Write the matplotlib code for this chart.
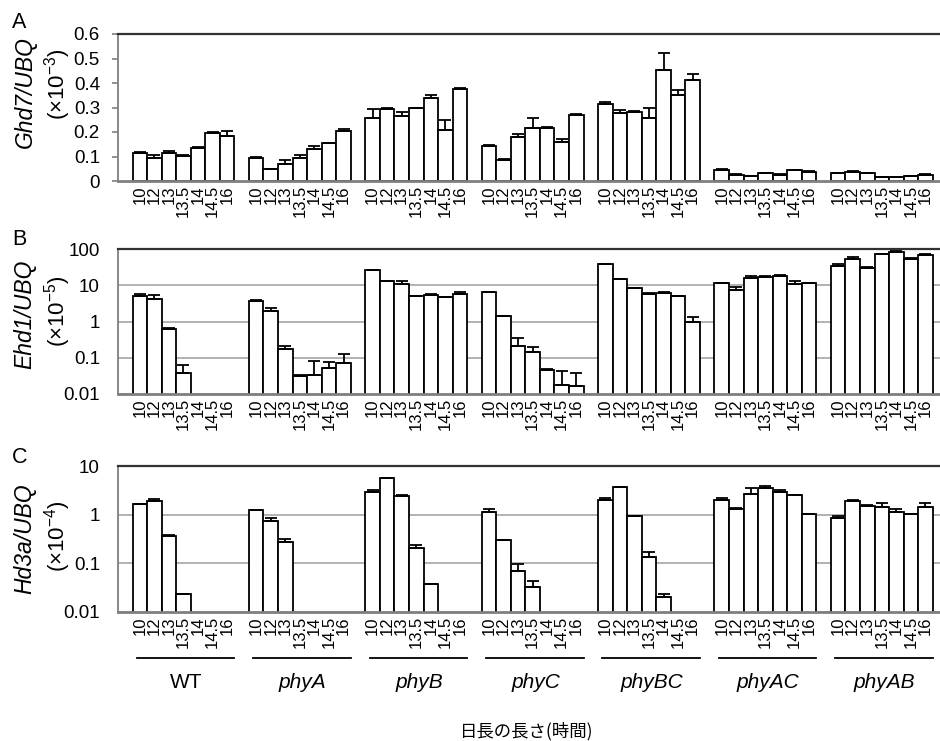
import numpy as np
import matplotlib
matplotlib.use("Agg")
from matplotlib import pyplot as plt
from matplotlib import transforms
from matplotlib.ticker import FixedLocator, NullLocator

plt.rcParams['font.family'] = ['Liberation Sans', 'Noto Sans CJK JP', 'DejaVu Sans']
plt.rcParams['mathtext.fontset'] = 'custom'
plt.rcParams['mathtext.rm'] = 'Liberation Sans'
plt.rcParams['mathtext.it'] = 'Liberation Sans:italic'

nan = np.nan

genotypes = ['WT', 'phyA', 'phyB', 'phyC', 'phyBC', 'phyAC', 'phyAB']
daylengths = ['10', '12', '13', '13.5', '14', '14.5', '16']

# A: Ghd7/UBQ (x10^-3), rows = genotypes, cols = daylengths
ghd7 = [[0.116, 0.094, 0.116, 0.104, 0.136, 0.196, 0.185],
        [0.093, 0.048, 0.070, 0.093, 0.131, 0.154, 0.206],
        [0.259, 0.292, 0.267, 0.296, 0.340, 0.210, 0.376],
        [0.143, 0.087, 0.180, 0.217, 0.217, 0.161, 0.271],
        [0.314, 0.277, 0.282, 0.259, 0.455, 0.352, 0.413],
        [0.044, 0.026, 0.019, 0.031, 0.026, 0.044, 0.038],
        [0.031, 0.037, 0.033, 0.015, 0.016, 0.019, 0.025]]
ghd7_err = [[0.003, 0.011, 0.008, 0.003, 0.003, 0.003, 0.020],
            [0.003, 0.003, 0.017, 0.012, 0.012, 0.003, 0.005],
            [0.034, 0.005, 0.014, 0.003, 0.012, 0.037, 0.005],
            [0.002, 0.002, 0.012, 0.042, 0.002, 0.012, 0.003],
            [0.007, 0.012, 0.002, 0.037, 0.068, 0.018, 0.025],
            [0.007, 0.001, 0.001, 0.003, 0.001, 0.002, 0.003],
            [0.001, 0.002, 0.001, 0.003, 0.001, 0.003, 0.002]]

# B: Ehd1/UBQ (x10^-5)
ehd1 = [[4.91, 4.15, 0.614, 0.039, nan, nan, nan],
        [3.73, 1.93, 0.179, 0.0315, 0.0343, 0.0513, 0.0735],
        [25.7, 13.0, 10.8, 4.91, 5.46, 4.61, 5.58],
        [6.61, 1.43, 0.217, 0.148, 0.047, 0.0177, 0.0163],
        [37.7, 14.5, 8.17, 5.82, 6.2, 4.91, 1.0],
        [11.7, 7.35, 15.8, 17.2, 17.5, 10.8, 11.7],
        [34.6, 54.0, 30.5, 72.8, 80.9, 54.0, 66.8]]
ehd1_err = [[0.7, 1.4, 0.06, 0.023, 0, 0, 0],
            [0.1, 0.4, 0.03, 0.001, 0.047, 0.024, 0.057],
            [0.3, 0.2, 2.2, 0.2, 0.2, 0.1, 1.1],
            [0.1, 0.02, 0.13, 0.047, 0.001, 0.025, 0.022],
            [0.5, 0.3, 0.3, 0.3, 0.4, 0.1, 0.3],
            [0.2, 1.7, 1.8, 0.3, 1.5, 2.2, 0.2],
            [3.8, 6.0, 0.5, 1.0, 7.0, 1.0, 6.0]]

# C: Hd3a/UBQ (x10^-4)
hd3a = [[1.63, 1.9, 0.366, 0.023, nan, nan, nan],
        [1.23, 0.754, 0.28, nan, nan, nan, nan],
        [2.9, 5.55, 2.37, 0.208, 0.038, nan, nan],
        [1.15, 0.298, 0.068, 0.033, nan, nan, nan],
        [2.03, 3.63, 0.925, 0.136, 0.0203, nan, nan],
        [2.03, 1.33, 2.69, 3.52, 2.96, 2.49, 1.02],
        [0.868, 1.87, 1.53, 1.41, 1.13, 1.02, 1.41]]
hd3a_err = [[0.03, 0.15, 0.01, 0.0005, 0, 0, 0],
            [0.02, 0.11, 0.04, 0, 0, 0, 0],
            [0.3, 0.25, 0.13, 0.035, 0.0005, 0, 0],
            [0.18, 0.003, 0.028, 0.011, 0, 0, 0],
            [0.13, 0.05, 0.02, 0.033, 0.003, 0, 0],
            [0.13, 0.05, 0.9, 0.3, 0.2, 0.05, 0.03],
            [0.07, 0.1, 0.03, 0.35, 0.2, 0.03, 0.35]]

W, H = 940, 741
fig = plt.figure(figsize=(W / 100, H / 100), dpi=100)

def px_axes(top, bottom, left=118, right=940):
    return fig.add_axes([left / W, 1 - bottom / H, (right - left) / W, (bottom - top) / H])

ax_a = px_axes(34, 181)
ax_b = px_axes(249, 394)
ax_c = px_axes(466, 612)

ngen = len(genotypes)
nday = len(daylengths)
# one empty slot in front of each genotype, bars touching
xpos = np.array([[8 * g + 1 + i + 0.5 for i in range(nday)] for g in range(ngen)])

def draw_panel(ax, vals, errs, log):
    vals = np.array(vals, dtype=float).ravel()
    errs = np.array(errs, dtype=float).ravel()
    x = xpos.ravel()
    ax.bar(x, vals, width=1.0, color='white', edgecolor='black', linewidth=1.3, zorder=2)
    ok = ~np.isnan(vals)
    ax.errorbar(x[ok], vals[ok], yerr=[np.zeros(ok.sum()), errs[ok]], fmt='none',
                ecolor='black', elinewidth=1.3, capsize=4, capthick=1.3, zorder=3)
    ax.set_xlim(0, 56.5)
    ax.set_xticks(x)
    ax.set_xticklabels(daylengths * ngen, rotation=90, fontsize=12)
    ax.tick_params(axis='x', length=0, pad=3)
    ax.spines['right'].set_visible(False)
    ax.spines['top'].set_color('#303030')
    ax.spines['top'].set_linewidth(1.6)
    ax.spines['bottom'].set_color('#7f7f7f')
    ax.spines['bottom'].set_linewidth(2)
    ax.spines['left'].set_color('#7f7f7f')
    ax.spines['left'].set_linewidth(1.3)
    if log:
        ax.set_yscale('log')
        ax.yaxis.grid(True, color='#a6a6a6', linewidth=1.2)
        ax.set_axisbelow(True)
        ax.yaxis.set_minor_locator(NullLocator())
        ax.tick_params(axis='y', length=0, pad=13, labelsize=13.5)
    else:
        ax.tick_params(axis='y', length=4, width=1.2, color='#7f7f7f', pad=9, labelsize=13.5)

draw_panel(ax_a, ghd7, ghd7_err, log=False)
ax_a.set_ylim(0, 0.6)
ax_a.set_yticks([0, 0.1, 0.2, 0.3, 0.4, 0.5, 0.6])
ax_a.set_yticklabels(['0', '0.1', '0.2', '0.3', '0.4', '0.5', '0.6'])

draw_panel(ax_b, ehd1, ehd1_err, log=True)
ax_b.set_ylim(0.01, 100)
ax_b.yaxis.set_major_locator(FixedLocator([0.01, 0.1, 1, 10, 100]))
ax_b.set_yticklabels(['0.01', '0.1', '1', '10', '100'])

draw_panel(ax_c, hd3a, hd3a_err, log=True)
ax_c.set_ylim(0.01, 10)
ax_c.yaxis.set_major_locator(FixedLocator([0.01, 0.1, 1, 10]))
ax_c.set_yticklabels(['0.01', '0.1', '1', '10'])

# panel letters and y labels
for letter, ly in [('A', 22), ('B', 240), ('C', 457)]:
    fig.text(12 / W, 1 - ly / H, letter, fontsize=15.5, ha='left', va='center')

ylabels = [('Ghd7/UBQ', '-3', 92, 84), ('Ehd1/UBQ', '-5', 314, 311), ('Hd3a/UBQ', '-4', 539, 536)]
for name, exp, y1, y2 in ylabels:
    fig.text(25 / W, 1 - y1 / H, name, style='italic', fontsize=16.5, rotation=90,
             ha='center', va='center')
    fig.text(58 / W, 1 - y2 / H, '(×10$^{' + exp.replace('-', '\u2212') + '}$)', fontsize=16,
             rotation=90, ha='center', va='center')

# genotype brackets under panel C
trans = transforms.blended_transform_factory(ax_c.transData, fig.transFigure)
for g, name in enumerate(genotypes):
    ax_c.plot([8 * g + 1.3, 8 * g + 8.0], [1 - 658 / H] * 2, color='black', linewidth=1.3,
              transform=trans, clip_on=False)
    ax_c.text(8 * g + 4.7, 1 - 682 / H, name, transform=trans, fontsize=15,
              style='normal' if name == 'WT' else 'italic', ha='center', va='center')

fig.text(527 / W, 1 - 731 / H, '日長の長さ(時間)', fontsize=12.5, ha='center', va='center',
         family=['Noto Sans CJK JP', 'DejaVu Sans'])

fig.savefig('out.png', dpi=100)
